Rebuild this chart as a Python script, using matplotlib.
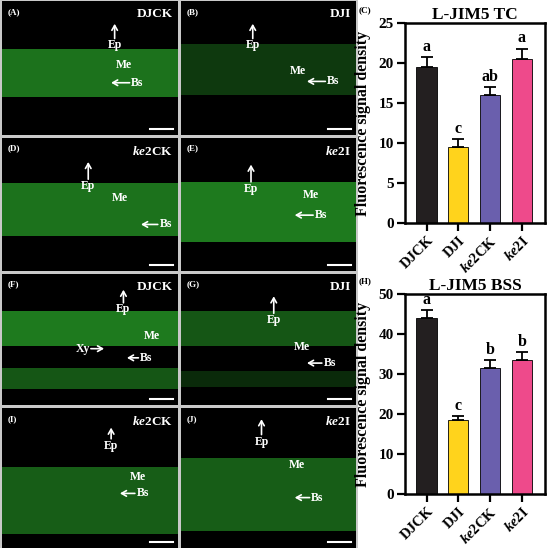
import matplotlib
matplotlib.use("Agg")
import matplotlib.pyplot as plt
import numpy as np

plt.rcParams['font.family'] = ['Liberation Serif', 'DejaVu Serif']
plt.rcParams['font.weight'] = 'bold'
plt.rcParams['mathtext.fontset'] = 'custom'
plt.rcParams['mathtext.rm'] = 'Liberation Serif:bold'
plt.rcParams['mathtext.it'] = 'Liberation Serif:italic:bold'
plt.rcParams['mathtext.bf'] = 'Liberation Serif:bold'

# ---------------- data ----------------
categories = ['DJCK', 'DJI', r'$\mathit{ke2}$CK', r'$\mathit{ke2}$I']
bar_colors = ['#231f20', '#ffd31c', '#6a5fad', '#ee4a8b']

tc_values = [19.5, 9.5, 16.0, 20.5]
tc_errors = [1.2, 1.0, 1.0, 1.3]
tc_letters = ['a', 'c', 'ab', 'a']

bss_values = [44.0, 18.5, 31.5, 33.5]
bss_errors = [2.0, 1.0, 2.0, 2.0]
bss_letters = ['a', 'c', 'b', 'b']

panel_ids = ['(A)', '(B)', '(D)', '(E)', '(F)', '(G)', '(I)', '(J)']
panel_names = ['DJCK', 'DJI', r'$\mathit{ke2}$CK', r'$\mathit{ke2}$I',
               'DJCK', 'DJI', r'$\mathit{ke2}$CK', r'$\mathit{ke2}$I']

W, H = 550, 548
fig = plt.figure(figsize=(5.5, 5.48), dpi=100)
fig.patch.set_facecolor('white')

def fx(px):
    return px / W

def fy(py):
    return 1 - py / H

# gray background behind micrograph grid
bg = fig.add_axes([0, 0, fx(358), 1])
bg.set_facecolor('#c9c9c9')
bg.set_xticks([]); bg.set_yticks([])
for s in bg.spines.values():
    s.set_visible(False)

rows = [(1, 135), (138, 271), (274, 405), (408, 548)]
cols = [(2, 178), (181, 356)]

# annotation layout per panel (y measured from top of panel)
layouts = [
    dict(ep=(0.64, 0.17, 0.33), me=(0.69, 0.48), bs=(0.62, 0.77, 0.61),
         bands=[(0.36, 0.72, 0.8)]),
    dict(ep=(0.41, 0.17, 0.33), me=(0.67, 0.52), bs=(0.72, 0.87, 0.60),
         bands=[(0.32, 0.70, 0.4)]),
    dict(ep=(0.49, 0.18, 0.36), me=(0.67, 0.45), bs=(0.79, 0.93, 0.65),
         bands=[(0.34, 0.74, 0.8)]),
    dict(ep=(0.40, 0.20, 0.38), me=(0.74, 0.43), bs=(0.65, 0.80, 0.58),
         bands=[(0.33, 0.78, 0.85)]),
    dict(ep=(0.69, 0.12, 0.27), me=(0.85, 0.47), bs=(0.71, 0.82, 0.64),
         xy=(0.58, 0.46, 0.57), bands=[(0.28, 0.55, 0.85), (0.72, 0.88, 0.6)]),
    dict(ep=(0.53, 0.17, 0.35), me=(0.69, 0.56), bs=(0.72, 0.85, 0.68),
         bands=[(0.28, 0.55, 0.6), (0.74, 0.86, 0.3)]),
    dict(ep=(0.62, 0.14, 0.27), me=(0.77, 0.49), bs=(0.67, 0.80, 0.61),
         bands=[(0.42, 0.90, 0.65)]),
    dict(ep=(0.46, 0.08, 0.24), me=(0.66, 0.41), bs=(0.65, 0.78, 0.64),
         bands=[(0.36, 0.88, 0.65)]),
]

arrow_kw = dict(arrowstyle='->,head_length=0.35,head_width=0.2', color='white',
                lw=1.2, shrinkA=0, shrinkB=0)

k = 0
for (r0, r1) in rows:
    for (c0, c1) in cols:
        ax = fig.add_axes([fx(c0), fy(r1), fx(c1 - c0), (r1 - r0) / H])
        ax.set_facecolor('black')
        ax.set_xlim(0, 1); ax.set_ylim(1, 0)
        ax.set_xticks([]); ax.set_yticks([])
        for s in ax.spines.values():
            s.set_visible(False)
        L = layouts[k]
        for (b0, b1, a) in L['bands']:
            ax.axhspan(b0, b1, color='#30c030', alpha=a * 0.75, lw=0)
        ax.text(0.03, 0.05, panel_ids[k], color='white', fontsize=6.5,
                va='top', ha='left')
        ax.text(0.97, 0.05, panel_names[k], color='white', fontsize=9.5,
                va='top', ha='right')
        ex, etip, etxt = L['ep']
        ax.annotate('', xy=(ex, etip), xytext=(ex, etxt - 0.05),
                    arrowprops=arrow_kw)
        ax.text(ex, etxt, 'Ep', color='white', fontsize=8.5, ha='center', va='center')
        mx, my = L['me']
        ax.text(mx, my, 'Me', color='white', fontsize=8.5, ha='center', va='center')
        btip, btxt, by = L['bs']
        ax.annotate('', xy=(btip, by), xytext=(btxt - 0.045, by),
                    arrowprops=arrow_kw)
        ax.text(btxt, by, 'Bs', color='white', fontsize=8.5, ha='center', va='center')
        if 'xy' in L:
            xtip, xtxt, xyy = L['xy']
            ax.annotate('', xy=(xtip, xyy), xytext=(xtxt + 0.045, xyy),
                        arrowprops=arrow_kw)
            ax.text(xtxt, xyy, 'Xy', color='white', fontsize=8.5, ha='center', va='center')
        ax.plot([0.84, 0.97], [0.955, 0.955], color='white', lw=1.5)
        k += 1

def bar_panel(rect, values, errors, letters, ymax, step, title, tag, tag_y):
    ax = fig.add_axes(rect)
    x = np.arange(len(values))
    ax.bar(x, values, width=0.64, color=bar_colors, edgecolor='black', linewidth=0.6, zorder=2)
    ax.errorbar(x, values, yerr=[np.zeros(len(errors)), errors], fmt='none',
                ecolor='black', elinewidth=1.3, capsize=4, capthick=1.3, zorder=3)
    for xi, v, e, t in zip(x, values, errors, letters):
        ax.text(xi, v + e + ymax * 0.012, t, ha='center', va='bottom',
                fontsize=11.5, fontweight='bold')
    ax.set_xlim(-0.68, 3.73)
    ax.set_ylim(0, ymax)
    ax.set_yticks(np.arange(0, ymax + 0.1, step))
    ax.set_xticks(x)
    ax.set_xticklabels(categories, rotation=45, ha='right', rotation_mode='anchor',
                       fontsize=10.5, fontweight='bold')
    ax.tick_params(axis='y', labelsize=11, width=1.6, length=6, direction='out', pad=2)
    ax.tick_params(axis='x', width=1.6, length=6, direction='out', pad=2)
    for lab in ax.get_yticklabels():
        lab.set_fontweight('bold')
    for s in ax.spines.values():
        s.set_linewidth(1.8)
    ax.set_ylabel('Fluorescence signal density', fontsize=11.5, fontweight='bold')
    ax.yaxis.set_label_coords(-0.245, 0.5)
    ax.set_title(title, fontsize=12.5, fontweight='bold', pad=3)
    fig.text(fx(359), tag_y, tag, fontsize=6.5, ha='left', va='center')
    return ax

bar_panel([fx(405), fy(223), fx(545 - 405), (223 - 23) / H],
          tc_values, tc_errors, tc_letters, 25, 5, 'L-JIM5 TC', '(C)', fy(10))
bar_panel([fx(405), fy(494), fx(545 - 405), (494 - 294) / H],
          bss_values, bss_errors, bss_letters, 50, 10, 'L-JIM5 BSS', '(H)', fy(281))

fig.savefig('out.png', dpi=100, facecolor='white')
